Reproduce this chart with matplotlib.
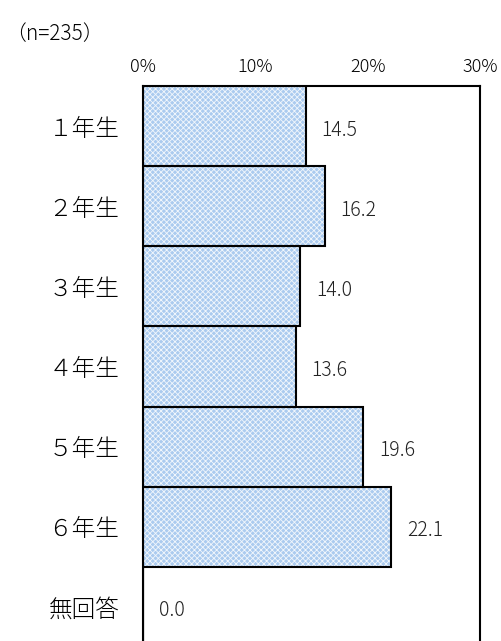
import numpy as np
import matplotlib
matplotlib.use("Agg")
import matplotlib.pyplot as plt

plt.rcParams['font.family'] = ['Noto Sans CJK JP', 'DejaVu Sans']
plt.rcParams['hatch.linewidth'] = 0.6

categories = ['１年生', '２年生', '３年生', '４年生', '５年生', '６年生', '無回答']
values = [14.5, 16.2, 14.0, 13.6, 19.6, 22.1, 0.0]
xticks = [0, 10, 20, 30]

fig = plt.figure(figsize=(5.02, 6.41), dpi=100)
ax = fig.add_axes([143/502, 1 - 647/641, (480 - 143)/502, 561/641])

y = np.arange(len(categories))
# fill with white cross hatch, then black outline on top
ax.barh(y, values, height=1.0, color='#abcbef', edgecolor='#f2f7fc',
        hatch='xxxxxx', linewidth=0)
ax.barh(y, values, height=1.0, color='none', edgecolor='black', linewidth=1.5)

for yi, v in zip(y, values):
    ax.text(v + 1.4, yi + 0.05, '%.1f' % v, va='center', ha='left',
            fontsize=14, fontweight='light', color='#222222')

ax.set_xlim(0, 30)
ax.set_ylim(len(categories) - 0.5, -0.5)
ax.set_yticks(y)
ax.set_yticklabels(categories, fontsize=17, fontweight='light')
ax.set_xticks(xticks)
ax.set_xticklabels(['%d%%' % t for t in xticks], fontsize=13, fontweight='light')
ax.xaxis.tick_top()
ax.tick_params(axis='both', length=0)
ax.tick_params(axis='x', pad=7)
ax.tick_params(axis='y', pad=17)
for s in ['left', 'right', 'top']:
    ax.spines[s].set_linewidth(1.5)
ax.spines['bottom'].set_visible(False)

fig.text(5/502, 1 - 34/641, '（n=235）', fontsize=15, fontweight='light',
         va='center', ha='left')

fig.savefig('out.png', dpi=100)
